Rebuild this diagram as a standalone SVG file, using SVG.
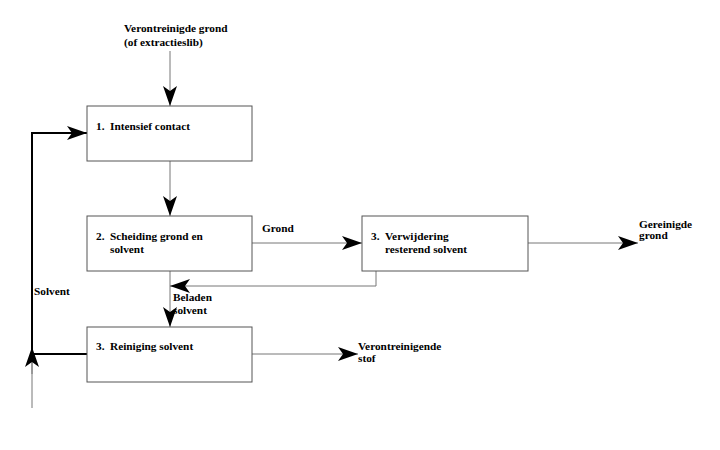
<svg xmlns="http://www.w3.org/2000/svg" width="720" height="450" viewBox="0 0 720 450">
<style>
.box{fill:#fff;stroke:#555;stroke-width:1}
.t{font-family:'Liberation Serif','DejaVu Serif',serif;font-weight:bold;font-size:11.3px;fill:#000}
.ln{fill:none;stroke:#777;stroke-width:1}
.thick{fill:none;stroke:#000;stroke-width:2}
</style>
<defs>
<marker id="ah" markerUnits="userSpaceOnUse" markerWidth="21" markerHeight="14" refX="20" refY="7" orient="auto" viewBox="0 0 21 14">
<path d="M0,0 L20,7 L0,14 L5,7 Z" fill="#000"/>
</marker>
</defs>
<rect width="720" height="450" fill="#fff"/>
<g id="connectors">
<line class="ln" x1="170" y1="51" x2="170" y2="106" marker-end="url(#ah)"/>
<line class="ln" x1="170" y1="161" x2="170" y2="216" marker-end="url(#ah)"/>
<line class="ln" x1="170" y1="271" x2="170" y2="327" marker-end="url(#ah)"/>
<polyline class="ln" points="376,271 376,286 170,286" marker-end="url(#ah)"/>
<line class="ln" x1="252" y1="243" x2="362" y2="243" marker-end="url(#ah)"/>
<line class="ln" x1="528" y1="243" x2="638" y2="243" marker-end="url(#ah)"/>
<line class="ln" x1="252" y1="354" x2="358" y2="354" marker-end="url(#ah)"/>
<line class="ln" x1="32" y1="408" x2="32" y2="354"/>
<line class="ln" x1="32" y1="374" x2="32" y2="347" marker-end="url(#ah)"/>
<polyline class="thick" points="87,354 32,354 32,133 87,133" marker-end="url(#ah)"/>
</g>
<g id="in-label"><text class="t" x="124" y="32">Verontreinigde grond</text><text class="t" x="124" y="46">(of extractieslib)</text></g>
<g id="n1"><rect class="box" x="87" y="106" width="165" height="55"/><text class="t" y="130"><tspan x="96">1.</tspan><tspan x="110">Intensief contact</tspan></text></g>
<g id="n2"><rect class="box" x="87" y="216" width="165" height="55"/><text class="t" y="240"><tspan x="96">2.</tspan><tspan x="110">Scheiding grond en</tspan></text><text class="t" x="110" y="253">solvent</text></g>
<g id="n3"><rect class="box" x="362" y="216" width="166" height="55"/><text class="t" y="240"><tspan x="371">3.</tspan><tspan x="385">Verwijdering</tspan></text><text class="t" x="385" y="253">resterend solvent</text></g>
<g id="n4"><rect class="box" x="87" y="327" width="165" height="55"/><text class="t" y="350"><tspan x="96">3.</tspan><tspan x="110">Reiniging solvent</tspan></text></g>
<g id="labels">
<text class="t" x="262" y="232">Grond</text>
<text class="t" x="639" y="228">Gereinigde</text><text class="t" x="639" y="239">grond</text>
<text class="t" x="34" y="295">Solvent</text>
<text class="t" x="173" y="301">Beladen</text><text class="t" x="173" y="314">solvent</text>
<text class="t" x="358" y="350">Verontreinigende</text><text class="t" x="358" y="362">stof</text>
</g>
</svg>
